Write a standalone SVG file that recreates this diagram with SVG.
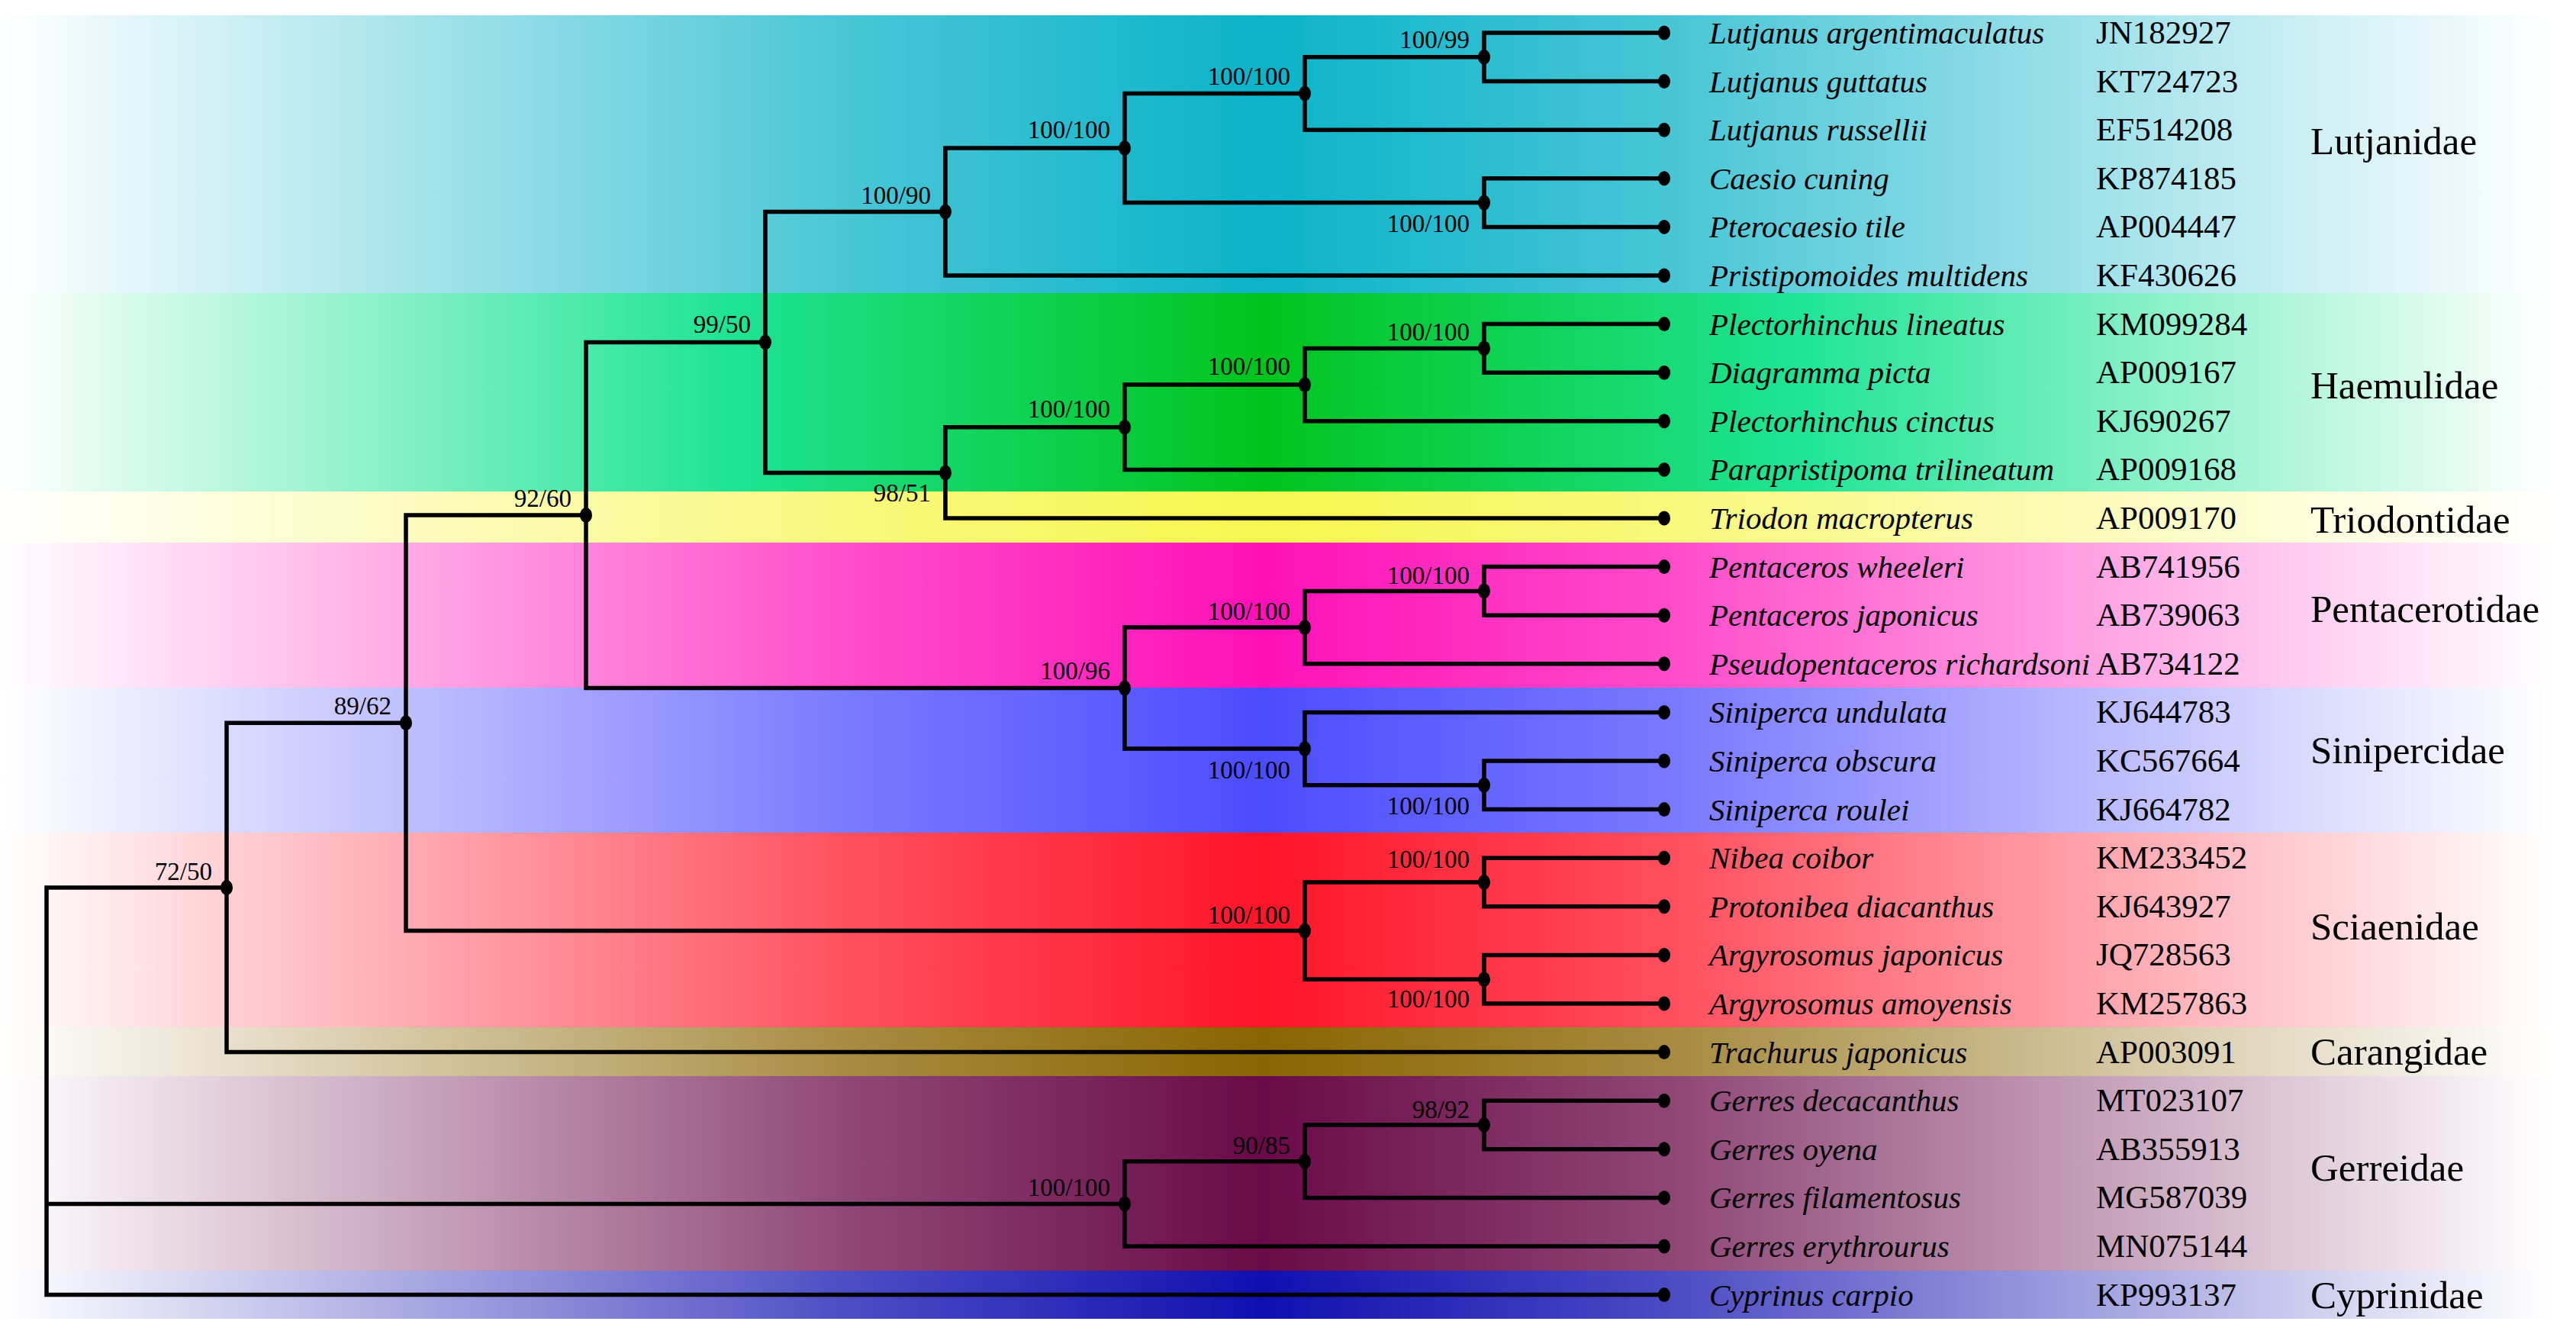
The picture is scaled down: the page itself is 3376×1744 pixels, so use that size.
<svg xmlns="http://www.w3.org/2000/svg" width="3376" height="1744" viewBox="0 0 3376 1744">
<style>
.br{fill:none;stroke:#000;stroke-width:5.5;stroke-linejoin:miter;stroke-linecap:butt}
.nd{fill:#000}
.bs{font-family:"Liberation Serif","Times New Roman",serif;font-size:33px;fill:#000;text-anchor:end}
.sp{font-family:"Liberation Serif","Times New Roman",serif;font-size:41px;font-style:italic;fill:#000}
.ac{font-family:"Liberation Serif","Times New Roman",serif;font-size:43px;fill:#000}
.fm{font-family:"Liberation Serif","Times New Roman",serif;font-size:51px;fill:#000}
</style>
<defs>
<linearGradient id="gLut" gradientUnits="userSpaceOnUse" x1="0" y1="0" x2="3376" y2="0"><stop offset="0" stop-color="#fff"/><stop offset="0.33" stop-color="#48c6d6"/><stop offset="0.49" stop-color="#0bb3c9"/><stop offset="0.65" stop-color="#48c6d6"/><stop offset="0.99" stop-color="#fff"/></linearGradient>
<linearGradient id="gHae" gradientUnits="userSpaceOnUse" x1="0" y1="0" x2="3376" y2="0"><stop offset="0" stop-color="#fff"/><stop offset="0.28" stop-color="#20e496"/><stop offset="0.49" stop-color="#00c41c"/><stop offset="0.70" stop-color="#20e496"/><stop offset="0.99" stop-color="#fff"/></linearGradient>
<linearGradient id="gTri" gradientUnits="userSpaceOnUse" x1="0" y1="0" x2="3376" y2="0"><stop offset="0" stop-color="#fff"/><stop offset="0.33" stop-color="#f8f87c"/><stop offset="0.49" stop-color="#f6f650"/><stop offset="0.65" stop-color="#f8f87c"/><stop offset="0.99" stop-color="#fff"/></linearGradient>
<linearGradient id="gPen" gradientUnits="userSpaceOnUse" x1="0" y1="0" x2="3376" y2="0"><stop offset="0" stop-color="#fff"/><stop offset="0.33" stop-color="#ff4cca"/><stop offset="0.49" stop-color="#ff10b8"/><stop offset="0.65" stop-color="#ff4cca"/><stop offset="0.99" stop-color="#fff"/></linearGradient>
<linearGradient id="gSin" gradientUnits="userSpaceOnUse" x1="0" y1="0" x2="3376" y2="0"><stop offset="0" stop-color="#fff"/><stop offset="0.33" stop-color="#7979ff"/><stop offset="0.49" stop-color="#4c4cff"/><stop offset="0.65" stop-color="#7979ff"/><stop offset="0.99" stop-color="#fff"/></linearGradient>
<linearGradient id="gSci" gradientUnits="userSpaceOnUse" x1="0" y1="0" x2="3376" y2="0"><stop offset="0" stop-color="#fff"/><stop offset="0.33" stop-color="#ff4f5e"/><stop offset="0.49" stop-color="#ff1428"/><stop offset="0.65" stop-color="#ff4f5e"/><stop offset="0.99" stop-color="#fff"/></linearGradient>
<linearGradient id="gCar" gradientUnits="userSpaceOnUse" x1="0" y1="0" x2="3376" y2="0"><stop offset="0" stop-color="#fff"/><stop offset="0.33" stop-color="#a78b40"/><stop offset="0.49" stop-color="#8a6400"/><stop offset="0.65" stop-color="#a78b40"/><stop offset="0.99" stop-color="#fff"/></linearGradient>
<linearGradient id="gGer" gradientUnits="userSpaceOnUse" x1="0" y1="0" x2="3376" y2="0"><stop offset="0" stop-color="#fff"/><stop offset="0.33" stop-color="#8f4776"/><stop offset="0.49" stop-color="#6a0a48"/><stop offset="0.65" stop-color="#8f4776"/><stop offset="0.99" stop-color="#fff"/></linearGradient>
<linearGradient id="gCyp" gradientUnits="userSpaceOnUse" x1="0" y1="0" x2="3376" y2="0"><stop offset="0" stop-color="#fff"/><stop offset="0.33" stop-color="#4c4cc4"/><stop offset="0.49" stop-color="#1010b0"/><stop offset="0.65" stop-color="#4c4cc4"/><stop offset="0.99" stop-color="#fff"/></linearGradient>
</defs>
<rect x="0" y="0" width="3376" height="1744" fill="#fff"/>
<g id="bands">
<rect x="0" y="20" width="3376" height="364" fill="url(#gLut)"/>
<rect x="0" y="384" width="3376" height="260" fill="url(#gHae)"/>
<rect x="0" y="644" width="3376" height="67" fill="url(#gTri)"/>
<rect x="0" y="711" width="3376" height="190" fill="url(#gPen)"/>
<rect x="0" y="901" width="3376" height="190" fill="url(#gSin)"/>
<rect x="0" y="1091" width="3376" height="255" fill="url(#gSci)"/>
<rect x="0" y="1346" width="3376" height="64" fill="url(#gCar)"/>
<rect x="0" y="1410" width="3376" height="255" fill="url(#gGer)"/>
<rect x="0" y="1665" width="3376" height="63" fill="url(#gCyp)"/>
</g>
<g id="connectors" class="br">
<path d="M2181 43H1945V106.6H2181"/>
<path d="M1945 74.8H1710V170.2H2181"/>
<path d="M2181 233.8H1945V297.4H2181"/>
<path d="M1710 122.5H1474V265.6H1945"/>
<path d="M1474 194.05H1239V361H2181"/>
<path d="M2181 424.6H1945V488.2H2181"/>
<path d="M1945 456.4H1710V551.8H2181"/>
<path d="M1710 504.1H1474V615.4H2181"/>
<path d="M1474 559.75H1239V679H2181"/>
<path d="M1239 277.5H1003V619.4H1239"/>
<path d="M2181 742.6H1945V806.2H2181"/>
<path d="M1945 774.4H1710V869.8H2181"/>
<path d="M2181 997H1945V1060.6H2181"/>
<path d="M2181 933.4H1710V1028.8H1945"/>
<path d="M1710 822.1H1474V981.1H1710"/>
<path d="M1003 448.45H768V901.6H1474"/>
<path d="M2181 1124.2H1945V1187.8H2181"/>
<path d="M2181 1251.4H1945V1315H2181"/>
<path d="M1945 1156H1710V1283.2H1945"/>
<path d="M768 675H532V1219.6H1710"/>
<path d="M532 947.3H297V1378.6H2181"/>
<path d="M2181 1442.2H1945V1505.8H2181"/>
<path d="M1945 1474H1710V1569.4H2181"/>
<path d="M1710 1521.7H1474V1633H2181"/>
<path d="M297 1163H61V1696.6H2181M61 1577.4H1474"/>
</g>
<g id="n-A"><ellipse class="nd" cx="1945" cy="74.8" rx="8" ry="10"/><text class="bs" x="1926" y="63">100/99</text></g>
<g id="n-B"><ellipse class="nd" cx="1710" cy="122.5" rx="8" ry="10"/><text class="bs" x="1691" y="111">100/100</text></g>
<g id="n-C"><ellipse class="nd" cx="1945" cy="265.6" rx="8" ry="10"/><text class="bs" x="1926" y="304">100/100</text></g>
<g id="n-D"><ellipse class="nd" cx="1474" cy="194.05" rx="8" ry="10"/><text class="bs" x="1455" y="181">100/100</text></g>
<g id="n-E"><ellipse class="nd" cx="1239" cy="277.5" rx="8" ry="10"/><text class="bs" x="1220" y="267">100/90</text></g>
<g id="n-F"><ellipse class="nd" cx="1945" cy="456.4" rx="8" ry="10"/><text class="bs" x="1926" y="446">100/100</text></g>
<g id="n-G"><ellipse class="nd" cx="1710" cy="504.1" rx="8" ry="10"/><text class="bs" x="1691" y="491">100/100</text></g>
<g id="n-H"><ellipse class="nd" cx="1474" cy="559.75" rx="8" ry="10"/><text class="bs" x="1455" y="547">100/100</text></g>
<g id="n-I"><ellipse class="nd" cx="1239" cy="619.4" rx="8" ry="10"/><text class="bs" x="1220" y="657">98/51</text></g>
<g id="n-J"><ellipse class="nd" cx="1003" cy="448.45" rx="8" ry="10"/><text class="bs" x="984" y="436">99/50</text></g>
<g id="n-K"><ellipse class="nd" cx="1945" cy="774.4" rx="8" ry="10"/><text class="bs" x="1926" y="765">100/100</text></g>
<g id="n-L"><ellipse class="nd" cx="1710" cy="822.1" rx="8" ry="10"/><text class="bs" x="1691" y="812">100/100</text></g>
<g id="n-M"><ellipse class="nd" cx="1945" cy="1028.8" rx="8" ry="10"/><text class="bs" x="1926" y="1067">100/100</text></g>
<g id="n-N"><ellipse class="nd" cx="1710" cy="981.1" rx="8" ry="10"/><text class="bs" x="1691" y="1020">100/100</text></g>
<g id="n-O"><ellipse class="nd" cx="1474" cy="901.6" rx="8" ry="10"/><text class="bs" x="1455" y="890">100/96</text></g>
<g id="n-P"><ellipse class="nd" cx="768" cy="675" rx="8" ry="10"/><text class="bs" x="749" y="664">92/60</text></g>
<g id="n-Q"><ellipse class="nd" cx="1945" cy="1156" rx="8" ry="10"/><text class="bs" x="1926" y="1137">100/100</text></g>
<g id="n-R"><ellipse class="nd" cx="1945" cy="1283.2" rx="8" ry="10"/><text class="bs" x="1926" y="1320">100/100</text></g>
<g id="n-S"><ellipse class="nd" cx="1710" cy="1219.6" rx="8" ry="10"/><text class="bs" x="1691" y="1210">100/100</text></g>
<g id="n-T"><ellipse class="nd" cx="532" cy="947.3" rx="8" ry="10"/><text class="bs" x="513" y="936">89/62</text></g>
<g id="n-U"><ellipse class="nd" cx="297" cy="1163" rx="8" ry="10"/><text class="bs" x="278" y="1153">72/50</text></g>
<g id="n-V"><ellipse class="nd" cx="1945" cy="1474" rx="8" ry="10"/><text class="bs" x="1926" y="1465">98/92</text></g>
<g id="n-W"><ellipse class="nd" cx="1710" cy="1521.7" rx="8" ry="10"/><text class="bs" x="1691" y="1512">90/85</text></g>
<g id="n-X"><ellipse class="nd" cx="1474" cy="1577.4" rx="8" ry="10"/><text class="bs" x="1455" y="1567">100/100</text></g>
<g id="leaf-1"><ellipse class="nd" cx="2181" cy="43" rx="8" ry="9.5"/><text class="sp" x="2240" y="57">Lutjanus argentimaculatus</text><text class="ac" x="2747" y="57">JN182927</text></g>
<g id="leaf-2"><ellipse class="nd" cx="2181" cy="106.6" rx="8" ry="9.5"/><text class="sp" x="2240" y="120.6">Lutjanus guttatus</text><text class="ac" x="2747" y="120.6">KT724723</text></g>
<g id="leaf-3"><ellipse class="nd" cx="2181" cy="170.2" rx="8" ry="9.5"/><text class="sp" x="2240" y="184.2">Lutjanus russellii</text><text class="ac" x="2747" y="184.2">EF514208</text></g>
<g id="leaf-4"><ellipse class="nd" cx="2181" cy="233.8" rx="8" ry="9.5"/><text class="sp" x="2240" y="247.8">Caesio cuning</text><text class="ac" x="2747" y="247.8">KP874185</text></g>
<g id="leaf-5"><ellipse class="nd" cx="2181" cy="297.4" rx="8" ry="9.5"/><text class="sp" x="2240" y="311.4">Pterocaesio tile</text><text class="ac" x="2747" y="311.4">AP004447</text></g>
<g id="leaf-6"><ellipse class="nd" cx="2181" cy="361" rx="8" ry="9.5"/><text class="sp" x="2240" y="375">Pristipomoides multidens</text><text class="ac" x="2747" y="375">KF430626</text></g>
<g id="leaf-7"><ellipse class="nd" cx="2181" cy="424.6" rx="8" ry="9.5"/><text class="sp" x="2240" y="438.6">Plectorhinchus lineatus</text><text class="ac" x="2747" y="438.6">KM099284</text></g>
<g id="leaf-8"><ellipse class="nd" cx="2181" cy="488.2" rx="8" ry="9.5"/><text class="sp" x="2240" y="502.2">Diagramma picta</text><text class="ac" x="2747" y="502.2">AP009167</text></g>
<g id="leaf-9"><ellipse class="nd" cx="2181" cy="551.8" rx="8" ry="9.5"/><text class="sp" x="2240" y="565.8">Plectorhinchus cinctus</text><text class="ac" x="2747" y="565.8">KJ690267</text></g>
<g id="leaf-10"><ellipse class="nd" cx="2181" cy="615.4" rx="8" ry="9.5"/><text class="sp" x="2240" y="629.4">Parapristipoma trilineatum</text><text class="ac" x="2747" y="629.4">AP009168</text></g>
<g id="leaf-11"><ellipse class="nd" cx="2181" cy="679" rx="8" ry="9.5"/><text class="sp" x="2240" y="693">Triodon macropterus</text><text class="ac" x="2747" y="693">AP009170</text></g>
<g id="leaf-12"><ellipse class="nd" cx="2181" cy="742.6" rx="8" ry="9.5"/><text class="sp" x="2240" y="756.6">Pentaceros wheeleri</text><text class="ac" x="2747" y="756.6">AB741956</text></g>
<g id="leaf-13"><ellipse class="nd" cx="2181" cy="806.2" rx="8" ry="9.5"/><text class="sp" x="2240" y="820.2">Pentaceros japonicus</text><text class="ac" x="2747" y="820.2">AB739063</text></g>
<g id="leaf-14"><ellipse class="nd" cx="2181" cy="869.8" rx="8" ry="9.5"/><text class="sp" x="2240" y="883.8">Pseudopentaceros richardsoni</text><text class="ac" x="2747" y="883.8">AB734122</text></g>
<g id="leaf-15"><ellipse class="nd" cx="2181" cy="933.4" rx="8" ry="9.5"/><text class="sp" x="2240" y="947.4">Siniperca undulata</text><text class="ac" x="2747" y="947.4">KJ644783</text></g>
<g id="leaf-16"><ellipse class="nd" cx="2181" cy="997" rx="8" ry="9.5"/><text class="sp" x="2240" y="1011">Siniperca obscura</text><text class="ac" x="2747" y="1011">KC567664</text></g>
<g id="leaf-17"><ellipse class="nd" cx="2181" cy="1060.6" rx="8" ry="9.5"/><text class="sp" x="2240" y="1074.6">Siniperca roulei</text><text class="ac" x="2747" y="1074.6">KJ664782</text></g>
<g id="leaf-18"><ellipse class="nd" cx="2181" cy="1124.2" rx="8" ry="9.5"/><text class="sp" x="2240" y="1138.2">Nibea coibor</text><text class="ac" x="2747" y="1138.2">KM233452</text></g>
<g id="leaf-19"><ellipse class="nd" cx="2181" cy="1187.8" rx="8" ry="9.5"/><text class="sp" x="2240" y="1201.8">Protonibea diacanthus</text><text class="ac" x="2747" y="1201.8">KJ643927</text></g>
<g id="leaf-20"><ellipse class="nd" cx="2181" cy="1251.4" rx="8" ry="9.5"/><text class="sp" x="2240" y="1265.4">Argyrosomus japonicus</text><text class="ac" x="2747" y="1265.4">JQ728563</text></g>
<g id="leaf-21"><ellipse class="nd" cx="2181" cy="1315" rx="8" ry="9.5"/><text class="sp" x="2240" y="1329">Argyrosomus amoyensis</text><text class="ac" x="2747" y="1329">KM257863</text></g>
<g id="leaf-22"><ellipse class="nd" cx="2181" cy="1378.6" rx="8" ry="9.5"/><text class="sp" x="2240" y="1392.6">Trachurus japonicus</text><text class="ac" x="2747" y="1392.6">AP003091</text></g>
<g id="leaf-23"><ellipse class="nd" cx="2181" cy="1442.2" rx="8" ry="9.5"/><text class="sp" x="2240" y="1456.2">Gerres decacanthus</text><text class="ac" x="2747" y="1456.2">MT023107</text></g>
<g id="leaf-24"><ellipse class="nd" cx="2181" cy="1505.8" rx="8" ry="9.5"/><text class="sp" x="2240" y="1519.8">Gerres oyena</text><text class="ac" x="2747" y="1519.8">AB355913</text></g>
<g id="leaf-25"><ellipse class="nd" cx="2181" cy="1569.4" rx="8" ry="9.5"/><text class="sp" x="2240" y="1583.4">Gerres filamentosus</text><text class="ac" x="2747" y="1583.4">MG587039</text></g>
<g id="leaf-26"><ellipse class="nd" cx="2181" cy="1633" rx="8" ry="9.5"/><text class="sp" x="2240" y="1647">Gerres erythrourus</text><text class="ac" x="2747" y="1647">MN075144</text></g>
<g id="leaf-27"><ellipse class="nd" cx="2181" cy="1696.6" rx="8" ry="9.5"/><text class="sp" x="2240" y="1710.6">Cyprinus carpio</text><text class="ac" x="2747" y="1710.6">KP993137</text></g>
<g id="families">
<text class="fm" x="3028" y="202">Lutjanidae</text>
<text class="fm" x="3028" y="522">Haemulidae</text>
<text class="fm" x="3028" y="698">Triodontidae</text>
<text class="fm" x="3028" y="815">Pentacerotidae</text>
<text class="fm" x="3028" y="1000">Sinipercidae</text>
<text class="fm" x="3028" y="1231">Sciaenidae</text>
<text class="fm" x="3028" y="1395">Carangidae</text>
<text class="fm" x="3028" y="1547">Gerreidae</text>
<text class="fm" x="3028" y="1714">Cyprinidae</text>
</g>
</svg>
